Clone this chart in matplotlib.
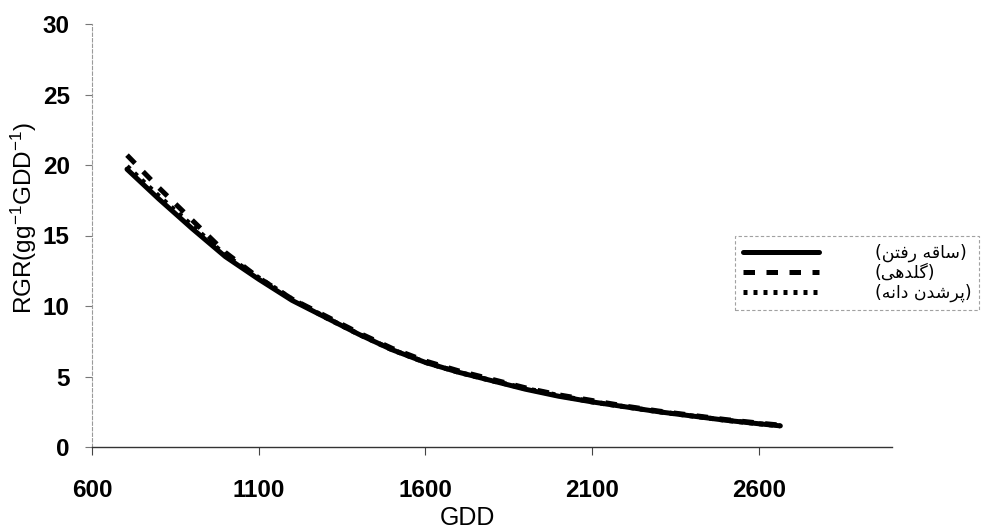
import matplotlib
matplotlib.use("Agg")
import matplotlib.pyplot as plt

# Growing degree days at which RGR was evaluated
gdd = [705, 800, 900, 1000, 1100, 1200, 1300, 1400, 1500, 1600, 1700,
       1800, 1900, 2000, 2100, 2200, 2300, 2400, 2500, 2600, 2665]

# Relative growth rate for the three stages
rgr_stem = [19.7, 17.6, 15.5, 13.5, 11.9, 10.4, 9.2, 8.0, 6.9, 6.0, 5.3,
            4.7, 4.1, 3.6, 3.2, 2.85, 2.5, 2.2, 1.9, 1.65, 1.5]
rgr_flower = [20.7, 18.4, 16.1, 13.8, 12.0, 10.5, 9.3, 8.1, 7.0, 6.1, 5.4,
              4.8, 4.2, 3.7, 3.3, 2.9, 2.55, 2.25, 1.95, 1.7, 1.55]
rgr_grain = [19.9, 17.8, 15.7, 13.6, 12.0, 10.5, 9.2, 8.0, 6.9, 6.0, 5.3,
             4.7, 4.15, 3.65, 3.2, 2.85, 2.5, 2.2, 1.9, 1.65, 1.5]

series_names = ["(ساقه رفتن)", "(گلدهی)", "(پرشدن دانه)"]

x_ticks = [600, 1100, 1600, 2100, 2600]
y_ticks = [0, 5, 10, 15, 20, 25, 30]

# Contextual forms (isolated, final, initial, medial) for the letters used
FORMS = {
    "ا": (0xFE8D, 0xFE8E), "د": (0xFEA9, 0xFEAA), "ر": (0xFEAD, 0xFEAE),
    "س": (0xFEB1, 0xFEB2, 0xFEB3, 0xFEB4), "ش": (0xFEB5, 0xFEB6, 0xFEB7, 0xFEB8),
    "ق": (0xFED5, 0xFED6, 0xFED7, 0xFED8), "ف": (0xFED1, 0xFED2, 0xFED3, 0xFED4),
    "ت": (0xFE95, 0xFE96, 0xFE97, 0xFE98), "ن": (0xFEE5, 0xFEE6, 0xFEE7, 0xFEE8),
    "ه": (0xFEE9, 0xFEEA, 0xFEEB, 0xFEEC), "ل": (0xFEDD, 0xFEDE, 0xFEDF, 0xFEE0),
    "گ": (0xFB92, 0xFB93, 0xFB94, 0xFB95), "ی": (0xFBFC, 0xFBFD, 0xFBFE, 0xFBFF),
    "پ": (0xFB56, 0xFB57, 0xFB58, 0xFB59),
}


def shape_rtl(text):
    """Join Persian letters and lay the string out right-to-left."""
    out = []
    for i, ch in enumerate(text):
        if ch not in FORMS:
            out.append(ch)
            continue
        prev = text[i - 1] if i > 0 else ""
        nxt = text[i + 1] if i + 1 < len(text) else ""
        join_prev = prev in FORMS and len(FORMS[prev]) == 4
        join_next = nxt in FORMS and len(FORMS[ch]) == 4
        f = FORMS[ch]
        if join_prev and join_next:
            code = f[3]
        elif join_prev:
            code = f[1]
        elif join_next:
            code = f[2]
        else:
            code = f[0]
        out.append(chr(code))
    mirror = {"(": ")", ")": "("}
    return "".join(mirror.get(c, c) for c in reversed(out))


plt.rcParams["mathtext.default"] = "regular"

fig = plt.figure(figsize=(9.84, 5.30), dpi=100)
ax = fig.add_axes([92 / 984, 1 - 447 / 530, 800 / 984, 423 / 530])

lw = 3.6
ax.plot(gdd, rgr_stem, color="black", lw=lw, solid_capstyle="round",
        label=shape_rtl(series_names[0]), zorder=3)
ax.plot(gdd, rgr_flower, color="black", lw=lw, linestyle=(0, (2.3, 2.3)),
        label=shape_rtl(series_names[1]), zorder=3)
ax.plot(gdd, rgr_grain, color="black", lw=lw, linestyle=(0, (0.8, 1.2)),
        label=shape_rtl(series_names[2]), zorder=3)

ax.set_xlim(600, 3000)
ax.set_ylim(0, 30)
ax.set_xticks(x_ticks)
ax.set_yticks(y_ticks)

tick_font = dict(family="Liberation Sans", weight="bold", size=17.5)
ax.set_xticklabels([str(v) for v in x_ticks], fontdict=tick_font)
ax.set_yticklabels([str(v) for v in y_ticks], fontdict=tick_font)
ax.tick_params(axis="x", direction="out", length=6, width=0.8,
               color="#444444", pad=17)
ax.tick_params(axis="y", direction="out", length=5, width=0.8,
               color="#777777", pad=11)

for side in ("top", "right"):
    ax.spines[side].set_visible(False)
ax.spines["left"].set_color("#9a9a9a")
ax.spines["left"].set_linewidth(0.8)
ax.spines["left"].set_linestyle((0, (3, 2)))
ax.spines["bottom"].set_color("#333333")
ax.spines["bottom"].set_linewidth(1.0)

ax.set_xlabel("GDD", family="Liberation Sans", size=18)
ax.xaxis.set_label_coords((467 - 92) / 800, -0.14)
ax.set_ylabel("RGR(gg$^{-1}$GDD$^{-1}$)", family="Liberation Sans", size=17.5)
ax.yaxis.set_label_coords(-0.066, 0.54)

leg = ax.legend(loc="upper left", bbox_to_anchor=(735 / 984, 1 - 236 / 530),
                bbox_transform=fig.transFigure,
                prop=dict(family="DejaVu Sans", size=12.5),
                handlelength=4.4, handletextpad=3.2, labelspacing=0.1,
                borderpad=0.45, borderaxespad=0, frameon=True, fancybox=False)
frame = leg.get_frame()
frame.set_edgecolor("#8a8a8a")
frame.set_linestyle((0, (3, 2)))
frame.set_linewidth(0.8)

fig.savefig("out.png", dpi=100)
